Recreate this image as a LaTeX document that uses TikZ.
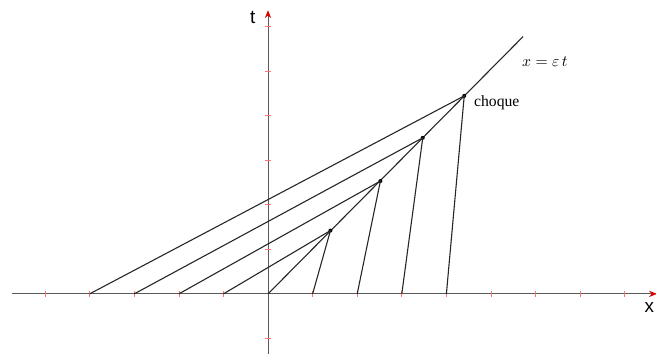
\documentclass[tikz,border=0pt]{standalone}
\usepackage{fontspec}
\setmainfont{Liberation Serif}
\newfontfamily\axisfont{Liberation Sans}
\usetikzlibrary{arrows.meta, positioning}
\tikzset{
    axis/.style={draw=black!65, line width=0.6pt},
    axistip/.style={-{Stealth[color=red!85!black, length=5pt, width=4pt]}},
    tick/.style={draw=red!55, line width=0.4pt},
    ray/.style={draw=black!85, line width=0.7pt},
    shockpt/.style={fill, circle, inner sep=0.9pt},
    axislabel/.style={font=\axisfont\large, inner sep=0pt},
}

\begin{document}
\begin{tikzpicture}[>=Stealth]
    \useasboundingbox (-6.01,-1.345) rectangle (8.70,6.59);

    % axes
    \coordinate (O) at (0,0);
    \coordinate (xl) at (-5.74,0);
    \coordinate (xr) at (8.72,0);
    \coordinate (tb) at (0,-1.4);
    \coordinate (tt) at (0,6.36);
    \draw[axis, axistip] (xl) -- (xr);
    \draw[axis, axistip] (tb) -- (tt);
    \foreach \i in {-5,...,-1,1,2,...,8}
        \draw[tick] (\i,-0.07) -- (\i,0.07);
    \foreach \j in {-1,1,2,...,6}
        \draw[tick] (-0.07,\j) -- (0.07,\j);
    \node[axislabel] (tlab) at (-0.34,6.2) {t};
    \node[axislabel] (xlab) at (8.55,-0.3) {x};

    % shock line x = eps t
    \coordinate (shockend) at (5.72,5.77);
    \draw[ray] (O) -- (shockend);
    \node (shocklab) at (6.21,5.2) {$x = \varepsilon\, t$};

    % points on the shock
    \node[shockpt] (p1) at (1.40,1.42) {};
    \node[shockpt] (p2) at (2.52,2.53) {};
    \node[shockpt] (p3) at (3.47,3.50) {};
    \node[shockpt] (p4) at (4.40,4.44) {};
    \node[anchor=west, inner sep=1pt] (choque) at (4.58,4.28) {choque};

    % feet on the x axis
    \coordinate (l1) at (-1,0);
    \coordinate (l2) at (-2,0);
    \coordinate (l3) at (-3,0);
    \coordinate (l4) at (-4,0);
    \coordinate (r1) at (1,0);
    \coordinate (r2) at (2,0);
    \coordinate (r3) at (3,0);
    \coordinate (r4) at (4,0);

    \draw[ray] (l1) -- (p1.center) -- (r1);
    \draw[ray] (l2) -- (p2.center) -- (r2);
    \draw[ray] (l3) -- (p3.center) -- (r3);
    \draw[ray] (l4) -- (p4.center) -- (r4);

\end{tikzpicture}
\end{document}
